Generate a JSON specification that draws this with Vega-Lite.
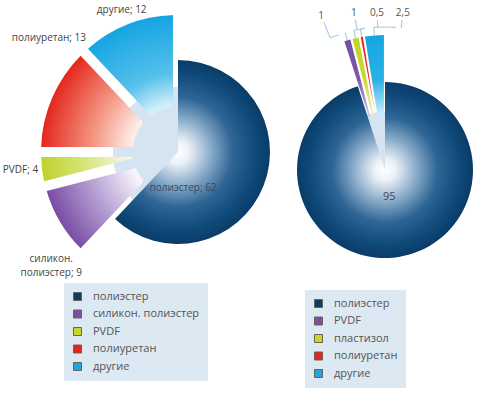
{
  "$schema": "https://vega.github.io/schema/vega-lite/v6.json",
  "padding": 0,
  "bounds": "flush",
  "spacing": 0,
  "background": "white",
  "config": {"view": {"stroke": null}, "font": "Open Sans"},
  "datasets": {
    "left": [
      {"type": "полиэстер", "label": "полиэстер; 62", "v": 62, "i": 0},
      {"type": "силикон. полиэстер", "label": "силикон.\nполиэстер; 9", "v": 9, "i": 1},
      {"type": "PVDF", "label": "PVDF; 4", "v": 4, "i": 2},
      {"type": "полиуретан", "label": "полиуретан; 13", "v": 13, "i": 3},
      {"type": "другие", "label": "другие; 12", "v": 12, "i": 4}
    ],
    "right": [
      {"type": "полиэстер", "label": "95", "v": 95, "i": 0},
      {"type": "PVDF", "label": "1", "v": 1, "i": 1},
      {"type": "пластизол", "label": "1", "v": 1, "i": 2},
      {"type": "полиуретан", "label": "0,5", "v": 0.5, "i": 3},
      {"type": "другие", "label": "2,5", "v": 2.5, "i": 4}
    ]
  },
  "resolve": {"scale": {"color": "independent", "theta": "independent"}},
  "hconcat": [
    {
      "width": 356,
      "height": 304,
      "data": {"name": "left"},
      "encoding": {
        "theta": {"field": "v", "type": "quantitative", "stack": true},
        "order": {"field": "i", "type": "quantitative"}
      },
      "layer": [
        {
          "mark": {"type": "arc", "radius": 65, "fill": "#d5e4f0"},
          "encoding": {"theta": {"value": 0}, "theta2": {"value": 6.2832}}
        },
        {
          "mark": {"type": "arc", "radius": 137, "radius2": 45, "padAngle": 0.07},
          "encoding": {
            "color": {
              "field": "type", "type": "nominal",
              "scale": {"domain": ["полиэстер", "силикон. полиэстер", "PVDF", "полиуретан", "другие"], "range": ["#0b3d69", "#7b4fa5", "#c6d72c", "#e5231b", "#1aa7e3"]},
              "legend": {"orient": "none", "legendX": 64, "legendY": 283, "title": null, "fillColor": "#dce8f2", "padding": 8, "symbolType": "square", "symbolSize": 64, "symbolStrokeColor": "#6e6052", "symbolStrokeWidth": 1, "symbolOpacity": 1, "labelFont": "Open Sans", "labelFontSize": 11, "labelColor": "#555555", "labelOffset": 10, "rowPadding": 4.5, "labelLimit": 300},
              "condition": [
                {"test": "datum.i === 1", "value": {"gradient": "radial", "x1": 1.302, "y1": -0.045, "r1": 0.44, "x2": 1.302, "y2": -0.045, "r2": 1.344, "stops": [{"offset": 0, "color": "#f7f4fb"}, {"offset": 0.45, "color": "#bba6d6"}, {"offset": 1, "color": "#7a4ea4"}]}},
                {"test": "datum.i === 2", "value": {"gradient": "radial", "x1": 1.467, "y1": 0.3175, "r1": 0.482, "x2": 1.467, "y2": 0.3175, "r2": 1.467, "stops": [{"offset": 0, "color": "#f8faea"}, {"offset": 0.45, "color": "#dce78a"}, {"offset": 1, "color": "#bfd22b"}]}},
                {"test": "datum.i === 3", "value": {"gradient": "radial", "x1": 1.29, "y1": 0.97, "r1": 0.424, "x2": 1.29, "y2": 0.97, "r2": 1.29, "stops": [{"offset": 0, "color": "#fdebe6"}, {"offset": 0.4, "color": "#f49a86"}, {"offset": 1, "color": "#e4261c"}]}},
                {"test": "datum.i === 4", "value": {"gradient": "radial", "x1": 0.95, "y1": 1.315, "r1": 0.432, "x2": 0.95, "y2": 1.315, "r2": 1.315, "stops": [{"offset": 0, "color": "#d2effb"}, {"offset": 0.35, "color": "#55c0eb"}, {"offset": 1, "color": "#15a5e2"}]}}
              ]
            },
            "opacity": {"condition": {"test": "datum.i === 0", "value": 0}, "value": 1}
          }
        },
        {
          "mark": {"type": "arc", "radius": 92, "radius2": 0},
          "encoding": {
            "color": {
              "field": "type", "type": "nominal",
              "scale": {"domain": ["полиэстер", "силикон. полиэстер", "PVDF", "полиуретан", "другие"], "range": ["#0b3d69", "#7b4fa5", "#c6d72c", "#e5231b", "#1aa7e3"]},
              "legend": {"orient": "none", "legendX": 64, "legendY": 283, "title": null, "fillColor": "#dce8f2", "padding": 8, "symbolType": "square", "symbolSize": 64, "symbolStrokeColor": "#6e6052", "symbolStrokeWidth": 1, "symbolOpacity": 1, "labelFont": "Open Sans", "labelFontSize": 11, "labelColor": "#555555", "labelOffset": 10, "rowPadding": 4.5, "labelLimit": 300},
              "condition": [
                {"test": "datum.i === 0", "value": {"gradient": "radial", "x1": 0.421, "y1": 0.5, "r1": 0, "x2": 0.421, "y2": 0.5, "r2": 0.5, "stops": [{"offset": 0, "color": "#ffffff"}, {"offset": 0.12, "color": "#edf2f8"}, {"offset": 0.35, "color": "#8caecb"}, {"offset": 0.6, "color": "#2e6595"}, {"offset": 0.85, "color": "#0f4a7a"}, {"offset": 1, "color": "#0a3c68"}]}}
              ]
            },
            "opacity": {"condition": {"test": "datum.i === 0", "value": 1}, "value": 0}
          }
        },
        {
          "mark": {"type": "text", "radius": 36, "thetaOffset": 1.0542, "fontSize": 10, "color": "#3c4a58", "baseline": "middle"},
          "encoding": {"text": {"condition": {"test": "datum.i === 0", "field": "label"}, "value": ""}}
        },
        {
          "mark": {"type": "text", "radius": 166, "thetaOffset": -0.1676, "fontSize": 10, "color": "#444444", "baseline": "middle", "lineBreak": "\n", "lineHeight": 13.5},
          "encoding": {"text": {"condition": {"test": "datum.i === 1", "field": "label"}, "value": ""}}
        },
        {
          "mark": {"type": "text", "radius": 141, "fontSize": 10, "color": "#444444", "baseline": "middle", "align": "right"},
          "encoding": {"text": {"condition": {"test": "datum.i === 2", "field": "label"}, "value": ""}}
        },
        {
          "mark": {"type": "text", "radius": 146.5, "thetaOffset": 0.4835, "fontSize": 10, "color": "#444444", "baseline": "middle", "align": "right"},
          "encoding": {"text": {"condition": {"test": "datum.i === 3", "field": "label"}, "value": ""}}
        },
        {
          "mark": {"type": "text", "radius": 153, "fontSize": 10, "color": "#444444", "baseline": "middle"},
          "encoding": {"text": {"condition": {"test": "datum.i === 4", "field": "label"}, "value": ""}}
        }
      ]
    },
    {
      "width": 58,
      "height": 340,
      "data": {"name": "right"},
      "encoding": {
        "theta": {"field": "v", "type": "quantitative", "stack": true},
        "order": {"field": "i", "type": "quantitative"}
      },
      "layer": [
        {
          "mark": {"type": "arc", "radius": 58, "fill": "#d5e4f0"},
          "encoding": {"theta": {"value": 0}, "theta2": {"value": 6.2832}}
        },
        {
          "mark": {"type": "arc", "radius": 135, "radius2": 55, "padAngle": 0.015},
          "encoding": {
            "color": {
              "field": "type", "type": "nominal",
              "scale": {"domain": ["полиэстер", "PVDF", "пластизол", "полиуретан", "другие"], "range": ["#0b3d69", "#7b4fa5", "#c6d72c", "#e5231b", "#1aa7e3"]},
              "legend": {"orient": "none", "legendX": -51, "legendY": 290, "title": "\u00a0\u00a0\u00a0\u00a0\u00a0\u00a0\u00a0\u00a0\u00a0\u00a0\u00a0\u00a0\u00a0\u00a0", "titleOrient": "right", "titlePadding": 0, "titleFontSize": 11, "fillColor": "#dce8f2", "padding": 8, "symbolType": "square", "symbolSize": 64, "symbolStrokeColor": "#6e6052", "symbolStrokeWidth": 1, "symbolOpacity": 1, "labelFont": "Open Sans", "labelFontSize": 11, "labelColor": "#555555", "labelOffset": 10, "rowPadding": 4.5, "labelLimit": 300},
              "condition": [
                {"test": "datum.i === 1", "value": {"gradient": "linear", "x1": 0, "y1": 1, "x2": 0, "y2": 0, "stops": [{"offset": 0, "color": "#d8cce8"}, {"offset": 0.5, "color": "#7d57a9"}, {"offset": 1, "color": "#7350a3"}]}},
                {"test": "datum.i === 2", "value": {"gradient": "linear", "x1": 0, "y1": 1, "x2": 0, "y2": 0, "stops": [{"offset": 0, "color": "#eef3c0"}, {"offset": 0.5, "color": "#c8d92e"}, {"offset": 1, "color": "#c4d52a"}]}},
                {"test": "datum.i === 3", "value": {"gradient": "linear", "x1": 0, "y1": 1, "x2": 0, "y2": 0, "stops": [{"offset": 0, "color": "#f6b7a8"}, {"offset": 0.5, "color": "#e42a1e"}, {"offset": 1, "color": "#e3221a"}]}},
                {"test": "datum.i === 4", "value": {"gradient": "linear", "x1": 0, "y1": 1, "x2": 0, "y2": 0, "stops": [{"offset": 0, "color": "#cdeefa"}, {"offset": 0.45, "color": "#29b0e6"}, {"offset": 1, "color": "#16a5e2"}]}}
              ]
            },
            "opacity": {"condition": {"test": "datum.i === 0", "value": 0}, "value": 1}
          }
        },
        {
          "mark": {"type": "arc", "radius": 88, "radius2": 0},
          "encoding": {
            "color": {
              "field": "type", "type": "nominal",
              "scale": {"domain": ["полиэстер", "PVDF", "пластизол", "полиуретан", "другие"], "range": ["#0b3d69", "#7b4fa5", "#c6d72c", "#e5231b", "#1aa7e3"]},
              "legend": {"orient": "none", "legendX": -51, "legendY": 290, "title": "\u00a0\u00a0\u00a0\u00a0\u00a0\u00a0\u00a0\u00a0\u00a0\u00a0\u00a0\u00a0\u00a0\u00a0", "titleOrient": "right", "titlePadding": 0, "titleFontSize": 11, "fillColor": "#dce8f2", "padding": 8, "symbolType": "square", "symbolSize": 64, "symbolStrokeColor": "#6e6052", "symbolStrokeWidth": 1, "symbolOpacity": 1, "labelFont": "Open Sans", "labelFontSize": 11, "labelColor": "#555555", "labelOffset": 10, "rowPadding": 4.5, "labelLimit": 300},
              "condition": [
                {"test": "datum.i === 0", "value": {"gradient": "radial", "x1": 0.5, "y1": 0.5, "r1": 0, "x2": 0.5, "y2": 0.5, "r2": 0.5, "stops": [{"offset": 0, "color": "#ffffff"}, {"offset": 0.12, "color": "#edf2f8"}, {"offset": 0.35, "color": "#8caecb"}, {"offset": 0.6, "color": "#2e6595"}, {"offset": 0.85, "color": "#0f4a7a"}, {"offset": 1, "color": "#0a3c68"}]}}
              ]
            },
            "opacity": {"condition": {"test": "datum.i === 0", "value": 1}, "value": 0}
          }
        },
        {
          "mark": {"type": "text", "radius": 27, "fontSize": 11, "color": "#3c4a58", "baseline": "middle"},
          "encoding": {"text": {"condition": {"test": "datum.i === 0", "field": "label"}, "value": ""}}
        },
        {
          "mark": {"type": "arc", "radius": 143, "radius2": 135, "padAngle": 1, "fill": "transparent", "stroke": "#a8cfe8", "strokeWidth": 1.2},
          "encoding": {"opacity": {"condition": {"test": "datum.i === 0", "value": 0}, "value": 1}}
        },
        {
          "mark": {"type": "arc", "radius": 143, "radius2": 143, "thetaOffset": -0.07854, "theta2Offset": -0.03142, "fill": "transparent", "stroke": "#a8cfe8", "strokeWidth": 1.2},
          "encoding": {"opacity": {"condition": {"test": "datum.i === 1", "value": 1}, "value": 0}}
        },
        {
          "mark": {"type": "arc", "radius": 143, "radius2": 143, "thetaOffset": 0.03142, "theta2Offset": -0.00698, "fill": "transparent", "stroke": "#a8cfe8", "strokeWidth": 1.2},
          "encoding": {"opacity": {"condition": {"test": "datum.i === 2", "value": 1}, "value": 0}}
        },
        {
          "mark": {"type": "arc", "radius": 143, "radius2": 143, "thetaOffset": 0.01571, "theta2Offset": 0.10647, "fill": "transparent", "stroke": "#a8cfe8", "strokeWidth": 1.2},
          "encoding": {"opacity": {"condition": {"test": "datum.i === 3", "value": 1}, "value": 0}}
        },
        {
          "mark": {"type": "arc", "radius": 143, "radius2": 143, "thetaOffset": 0.07854, "theta2Offset": 0.11345, "fill": "transparent", "stroke": "#a8cfe8", "strokeWidth": 1.2},
          "encoding": {"opacity": {"condition": {"test": "datum.i === 4", "value": 1}, "value": 0}}
        },
        {
          "mark": {"type": "arc", "radius": 160, "radius2": 143, "padAngle": 1, "thetaOffset": -0.10996, "theta2Offset": -0.10996, "fill": "transparent", "stroke": "#a8cfe8", "strokeWidth": 1.2},
          "encoding": {"opacity": {"condition": {"test": "datum.i === 1", "value": 1}, "value": 0}}
        },
        {
          "mark": {"type": "arc", "radius": 153, "radius2": 143, "padAngle": 1, "thetaOffset": 0.02443, "theta2Offset": 0.02443, "fill": "transparent", "stroke": "#a8cfe8", "strokeWidth": 1.2},
          "encoding": {"opacity": {"condition": {"test": "datum.i === 2", "value": 1}, "value": 0}}
        },
        {
          "mark": {"type": "arc", "radius": 150, "radius2": 143, "padAngle": 1, "thetaOffset": 0.12217, "theta2Offset": 0.12217, "fill": "transparent", "stroke": "#a8cfe8", "strokeWidth": 1.2},
          "encoding": {"opacity": {"condition": {"test": "datum.i === 3", "value": 1}, "value": 0}}
        },
        {
          "mark": {"type": "arc", "radius": 151, "radius2": 143, "padAngle": 1, "thetaOffset": 0.19199, "theta2Offset": 0.19199, "fill": "transparent", "stroke": "#a8cfe8", "strokeWidth": 1.2},
          "encoding": {"opacity": {"condition": {"test": "datum.i === 4", "value": 1}, "value": 0}}
        },
        {
          "mark": {"type": "text", "radius": 167, "thetaOffset": -0.10996, "fontSize": 10, "color": "#555555", "baseline": "middle"},
          "encoding": {"text": {"condition": {"test": "datum.i === 1", "field": "label"}, "value": ""}}
        },
        {
          "mark": {"type": "text", "radius": 160, "thetaOffset": 0.02443, "fontSize": 10, "color": "#555555", "baseline": "middle"},
          "encoding": {"text": {"condition": {"test": "datum.i === 2", "field": "label"}, "value": ""}}
        },
        {
          "mark": {"type": "text", "radius": 157, "thetaOffset": 0.12217, "fontSize": 10, "color": "#555555", "baseline": "middle"},
          "encoding": {"text": {"condition": {"test": "datum.i === 3", "field": "label"}, "value": ""}}
        },
        {
          "mark": {"type": "text", "radius": 158, "thetaOffset": 0.19199, "fontSize": 10, "color": "#555555", "baseline": "middle"},
          "encoding": {"text": {"condition": {"test": "datum.i === 4", "field": "label"}, "value": ""}}
        }
      ]
    }
  ]
}
